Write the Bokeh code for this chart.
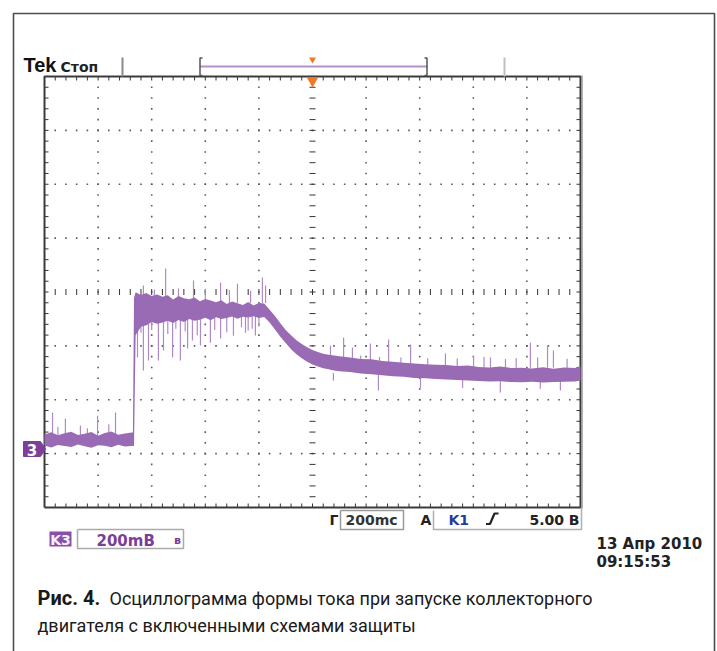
import numpy as np
from bokeh.plotting import figure
from bokeh.models import Range1d
from bokeh.core.properties import value
from bokeh.embed import file_html
from bokeh.resources import INLINE

# ---------------- data ----------------
# time in ms (trigger at 0), channel 3 voltage in mV (ground = 0)
TIME_PER_DIV = 200.0   # "200mc"
VOLT_PER_DIV = 200.0   # "200mB"

env_t = [-1000, -975, -950, -925, -900, -875, -850, -825, -800, -775, -750, -725, -700, -675, -670, -666,
         -660, -640, -620, -600, -580, -560, -540, -520, -500, -480, -460, -440, -420, -400, -380, -360,
         -340, -320, -300, -280, -260, -240, -220, -200, -180,
         -160, -140, -120, -100, -80, -60, -40, -20, 0, 20, 40, 60, 80, 100,
         140, 180, 220, 260, 300, 340, 380, 420, 460, 500, 540, 580, 620, 660, 700, 740, 780, 820,
         860, 900, 940, 980, 1000]
env_hi = [52, 60, 49, 57, 62, 50, 55, 61, 47, 58, 63, 51, 56, 59, 59, 560,
          580, 570, 577, 566, 572, 563, 569, 553, 566, 558, 554, 561, 547, 555, 549, 543,
          550, 536, 546, 539, 533, 544, 531, 540, 538,
          515, 492, 465, 440, 420, 402, 388, 376, 366, 358, 352, 348, 345, 342,
          338, 332, 331, 325, 322, 318, 316, 313, 311, 310, 306, 308, 303, 301, 304, 299, 300, 297,
          302, 296, 301, 299, 306]
env_lo = [11, 4, 13, 9, 6, 15, 8, 3, 12, 10, 5, 14, 7, 9, 9, 9,
          420, 452, 458, 470, 463, 468, 474, 466, 477, 470, 481, 474, 478, 485, 476, 487,
          481, 484, 490, 482, 489, 486, 491, 484, 488,
          468, 442, 415, 392, 368, 350, 335, 322, 312, 304, 298, 294, 290, 287,
          284, 278, 276, 272, 268, 266, 262, 261, 258, 256, 254, 252, 251, 249, 250, 247, 246, 248,
          245, 247, 248, 249, 252]

spike_t = [-970, -922, -866, -802, -735, -950, -840, -760,
           -631, -548, -500, -444, -343, -280, -231, -187, -175, -590, -400, -310,
           -653, -631, -612, -575, -556, -522, -493, -466, -448, -418, -381, -343, -295, -250, -213,
           -640, -600, -540, -510, -475, -430, -365, -320, -265, -240, -225, -200,
           67, 116, 149, 216, 284, 366, 496, 601, 664, 813, 877, 899,
           40, 180, 250, 330, 430, 540, 640, 720, 760, 840, 950,
           78, 246, 403, 701, 925, 560, 850]
spike_base = [40, 40, 40, 40, 40, 40, 40, 40,
              540, 540, 540, 540, 540, 540, 540, 540, 540, 540, 540, 540,
              500, 500, 500, 500, 500, 500, 500, 500, 500, 500, 500, 500, 500, 500, 500,
              500, 500, 500, 500, 500, 500, 500, 500, 500, 500, 500, 500,
              300, 300, 300, 300, 300, 300, 300, 300, 300, 300, 300, 300,
              300, 300, 300, 300, 300, 300, 300, 300, 300, 300, 300,
              280, 280, 280, 280, 280, 280, 280]
spike_tip = [134, 111, 85, 122, 134, 80, 75, 90,
             605, 668, 594, 624, 616, 612, 586, 635, 605, 590, 592, 588,
             338, 290, 327, 327, 364, 338, 327, 371, 401, 382, 393, 408, 419, 430, 419,
             430, 440, 425, 445, 435, 420, 440, 432, 450, 438, 445, 452,
             382, 412, 375, 390, 405, 386, 353, 345, 338, 393, 382, 364,
             350, 345, 340, 338, 335, 334, 340, 332, 336, 338, 333,
             252, 215, 223, 208, 215, 225, 222]

header_left = "Tek"
header_state = "Стоп"
time_scale = "200mc"
trig_source = "K1"
trig_level = "5.00 B"
ch_label = "K3"
ch_scale = "200mB"
date_line = "13 Апр 2010"
time_line = "09:15:53"
caption_bold = "Рис. 4."
caption_1 = "Осциллограмма формы тока при запуске коллекторного"
caption_2 = "двигателя с включенными схемами защиты"

# ---------------- layout helpers (page pixels -> divisions) ----------------
W, H = 717, 651
PXDIV_X, PXDIV_Y = 53.6, 53.875


def X(px):
    return (px - 44) / PXDIV_X


def Y(py):
    return 4 - (py - 76) / PXDIV_Y


GND = Y(448)


def xd(t):
    return np.asarray(t, dtype=float) / TIME_PER_DIV + 5


def yd(v):
    return np.asarray(v, dtype=float) / VOLT_PER_DIV + GND


p = figure(width=W, height=H, x_range=Range1d(X(0), X(W)), y_range=Range1d(Y(H), Y(0)),
           x_axis_type=None, y_axis_type=None, toolbar_location=None, output_backend="svg",
           min_border=0, outline_line_color=None, background_fill_color="white",
           border_fill_color="white")
p.grid.visible = False


def txt(px, py, s, size, color="#222222", font="DejaVu Sans", style="bold", align="left"):
    # py is the wanted baseline; Bokeh sets the text box bottom there, so lift by the descent
    p.text(x=[X(px)], y=[Y(py - 0.3 * size)], text=[s], text_font=value(font),
           text_font_size=f"{size}px", text_font_style=style, text_color=color,
           text_align=align, text_baseline="alphabetic")


def pline(pts, color, width):
    p.line([X(a) for a, b in pts], [Y(b) for a, b in pts], line_color=color, line_width=width)


# outer frame
pline([(13, 651), (13, 13), (714, 13), (714, 651)], "#4d4d4d", 1.6)

# ---------------- graticule ----------------
minor = np.round(np.arange(1, 50) * 0.2, 6)
minor_y = np.round(np.arange(1, 40) * 0.2 - 4, 6)
tx, ty = 4 / PXDIV_X, 4 / PXDIV_Y
gx, gy = [], []
for k in range(1, 10):
    if k == 5:
        continue
    gx += [k] * len(minor_y)
    gy += list(minor_y)
for k in range(-3, 4):
    if k == 0:
        continue
    gx += list(minor)
    gy += [k] * len(minor)
p.scatter(gx, gy, marker="square", size=1.6, color="#5a5a5a", line_width=0)

cx = 3 / PXDIV_X
cy = 3 / PXDIV_Y
p.segment(x0=5 - cx, x1=5 + cx, y0=minor_y, y1=minor_y, line_color="#333333", line_width=1)
p.segment(x0=minor, x1=minor, y0=-cy, y1=cy, line_color="#333333", line_width=1)

p.segment(x0=minor, x1=minor, y0=4, y1=4 - ty, line_color="#333333", line_width=1)
p.segment(x0=minor, x1=minor, y0=-4, y1=-4 + ty, line_color="#333333", line_width=1)
p.segment(x0=0, x1=tx, y0=minor_y, y1=minor_y, line_color="#333333", line_width=1)
p.segment(x0=10, x1=10 - tx, y0=minor_y, y1=minor_y, line_color="#333333", line_width=1)

p.line([0, 0, 10, 10, 0], [-4, 4, 4, -4, -4], line_color="#3a3a3a", line_width=2)
p.line([X(581.5), X(581.5)], [Y(75), Y(508)], line_color="#9a9a9a", line_width=1.5)

# ---------------- trace ----------------
p.segment(x0=xd(spike_t), x1=xd(spike_t), y0=yd(spike_base), y1=yd(spike_tip),
          line_color="#b08ac8", line_width=1.2)
p.varea(x=xd(env_t), y1=yd(env_lo), y2=yd(env_hi), fill_color="#9a6bb5")

# ---------------- header ----------------
txt(23, 70, header_left, 20, "#111111", "Liberation Sans")
txt(60, 71, header_state, 14, "#222222", "DejaVu Sans", "bold")
pline([(122, 57), (122, 76)], "#8a8a8a", 2)
pline([(504, 57), (504, 76)], "#c0c0c0", 2)
pline([(199, 66), (427, 66)], "#b38fcc", 2)
pline([(202, 57.5), (199.5, 57.5), (199.5, 75), (202, 75)], "#555555", 1.5)
pline([(424, 57.5), (426.5, 57.5), (426.5, 75), (424, 75)], "#555555", 1.5)
p.scatter([X(312)], [Y(59)], marker="inverted_triangle", size=7, color="#f07a22", line_width=0)
p.scatter([X(312)], [Y(80)], marker="inverted_triangle", size=12, color="#f07a22", line_width=0)

# ground marker
gm = [(23, 441), (40, 441), (45, 448.5), (40, 456), (23, 456)]
p.patch([X(a) for a, b in gm], [Y(b) for a, b in gm], fill_color="#7d3f98", line_color="#7d3f98")
txt(31.5, 454, "3", 15, "#ffffff", "DejaVu Sans", "bold", "center")

# ---------------- status line ----------------
txt(329, 523.5, "Г", 14, "#222222")
p.line([X(340), X(340), X(403), X(403), X(340)], [Y(510), Y(529), Y(529), Y(510), Y(510)],
       line_color="#9a9a9a", line_width=1.5)
txt(345, 523.5, time_scale, 14, "#333333")
txt(420, 523.5, "A", 14, "#222222")
pline([(433, 510), (433, 529), (581, 529), (581, 507)], "#b0b0b0", 1.5)
txt(448, 523.5, trig_source, 14, "#1f3f9f")
pline([(485.5, 523.5), (489.5, 523.5), (494, 513), (498, 513)], "#222222", 2.2)
txt(579, 523.5, trig_level, 14, "#222222", align="right")

p.quad(left=[X(49)], right=[X(71)], top=[Y(531)], bottom=[Y(546)], fill_color="#8a4fa8",
       line_color=None)
txt(60, 544, ch_label, 14, "#f6f0ff", "DejaVu Sans", "bold", "center")
p.line([X(77), X(77), X(183), X(183), X(77)], [Y(529), Y(548), Y(548), Y(529), Y(529)],
       line_color="#aaaaaa", line_width=1.5)
txt(96, 544.5, ch_scale, 15, "#7a3d9a")
txt(177, 543, "ʙ", 11, "#7a3d9a", align="center")

txt(596, 548, date_line, 15, "#222222")
txt(596, 565.5, time_line, 15, "#222222")

# ---------------- caption ----------------
txt(37, 603, caption_bold, 20, "#1a1a1a", "Roboto", "bold")
txt(109, 603, caption_1, 18, "#1a1a1a", "Roboto", "normal")
txt(37, 630, caption_2, 18, "#1a1a1a", "Roboto", "normal")

open("out.html", "w").write(file_html(p, INLINE))
